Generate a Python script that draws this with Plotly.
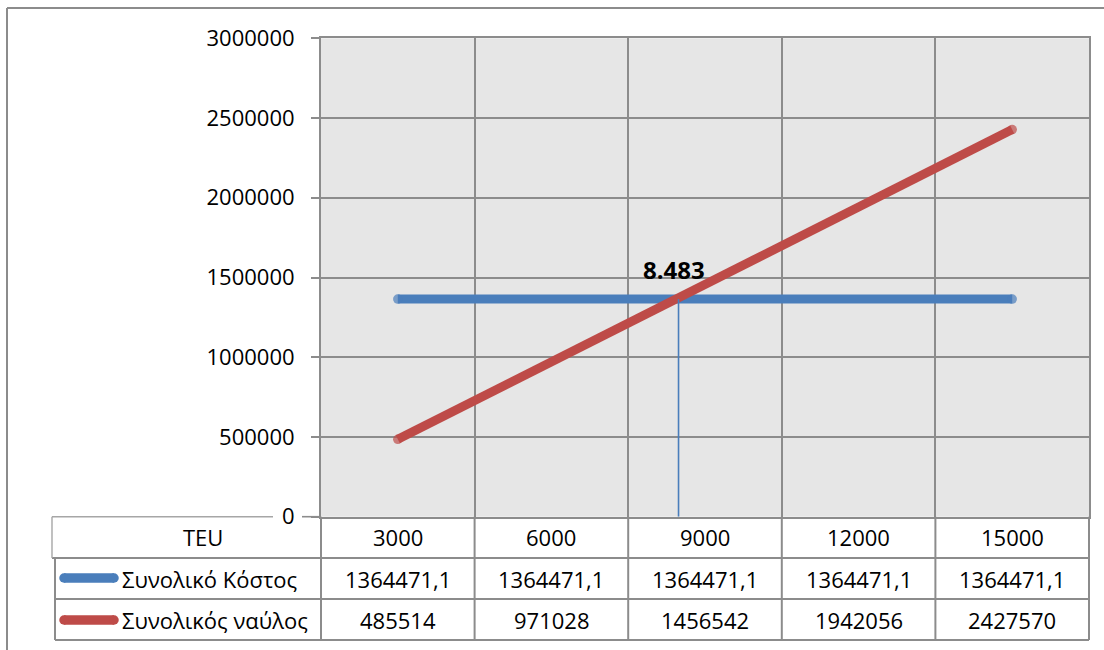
import plotly.graph_objects as go

# ---- data ----
teu = [3000, 6000, 9000, 12000, 15000]
total_cost = [1364471.1, 1364471.1, 1364471.1, 1364471.1, 1364471.1]
total_freight = [485514, 971028, 1456542, 1942056, 2427570]
series_names = ["Συνολικό Κόστος", "Συνολικός ναύλος"]
header_label = "TEU"
breakeven_teu = 8483

W, H = 1104, 650
BLUE = "#4a7ebb"
RED = "#be4b48"
GRID = "#8c8c8c"
FONT = "Open Sans, DejaVu Sans, sans-serif"
FS = 22

# plot area in pixels
PL, PR, PT, PB = 321, 1089, 38.3, 516.7


def px(x):
    return x / W


def py(y):
    return 1 - y / H


def fmt(v):
    return str(v).replace(".", ",")


# round end caps only at the first and last point of each series
cap_sizes = [9.5] + [0] * (len(teu) - 2) + [9.5]

fig = go.Figure()

fig.add_trace(go.Scatter(
    x=teu, y=total_cost, mode="lines+markers", name=series_names[0],
    line=dict(color=BLUE, width=9),
    marker=dict(color=BLUE, size=cap_sizes, line=dict(width=0)),
    hoverinfo="skip"))
fig.add_trace(go.Scatter(
    x=teu, y=total_freight, mode="lines+markers", name=series_names[1],
    line=dict(color=RED, width=9),
    marker=dict(color=RED, size=cap_sizes, line=dict(width=0)),
    hoverinfo="skip"))

# break-even drop line and label
fig.add_trace(go.Scatter(
    x=[breakeven_teu, breakeven_teu], y=[0, total_cost[0]], mode="lines",
    line=dict(color=BLUE, width=1.6), hoverinfo="skip"))
fig.add_annotation(
    x=breakeven_teu, y=total_cost[0], xref="x", yref="y",
    text="<b>" + f"{breakeven_teu:,}".replace(",", ".") + "</b>",
    showarrow=False, xanchor="center", yanchor="bottom", yshift=11, xshift=-5,
    font=dict(family=FONT, size=24, color="black"))

# category spacing: each TEU value sits in the middle of its column
step = teu[1] - teu[0]
x_lo, x_hi = teu[0] - step / 2, teu[-1] + step / 2
bounds = [x_lo + step * i for i in range(len(teu) + 1)]

fig.update_layout(
    template="none",
    width=W, height=H, autosize=False,
    margin=dict(l=0, r=0, t=0, b=0, pad=0, autoexpand=False),
    paper_bgcolor="white", plot_bgcolor="#e6e6e6",
    showlegend=False,
    font=dict(family=FONT, size=FS, color="black"),
    xaxis=dict(domain=[px(PL), px(PR)], range=[x_lo, x_hi],
               tickvals=bounds, showticklabels=False, ticks="",
               showgrid=True, gridcolor=GRID, gridwidth=1.6,
               showline=True, linecolor=GRID, linewidth=2, mirror=True,
               zeroline=False, automargin=False),
    yaxis=dict(domain=[py(PB), py(PT)], range=[0, 3000000],
               dtick=500000, tickformat="d", ticks="outside", ticklen=8,
               tickcolor=GRID, tickwidth=1.6, ticklabelstandoff=12,
               showgrid=True, gridcolor=GRID, gridwidth=1.6,
               showline=True, linecolor=GRID, linewidth=2, mirror=True,
               zeroline=False, automargin=False, tickfont=dict(size=FS)),
)

shapes = []


def hline(x0, x1, y, color=GRID, width=2):
    shapes.append(dict(type="line", xref="paper", yref="paper",
                       x0=px(x0), x1=px(x1), y0=py(y), y1=py(y),
                       line=dict(color=color, width=width)))


def vline(x, y0, y1, color=GRID, width=2):
    shapes.append(dict(type="line", xref="paper", yref="paper",
                       x0=px(x), x1=px(x), y0=py(y0), y1=py(y1),
                       line=dict(color=color, width=width)))


# outer chart border
hline(7, W + 5, 8)
vline(7, 8, H + 5)

# data table grid
row_y = [PB, 558, 599, 640]
col_x = [PL + (PR - PL) * i / len(teu) for i in range(len(teu) + 1)]
for x in col_x:
    vline(x, PB, row_y[-1])
hline(55, PR, row_y[2])
hline(55, PR, row_y[3])
hline(52, PR, row_y[1])
vline(55, row_y[1], row_y[3])
# header cell (lighter frame, broken around the zero tick label)
hline(52, 273, PB, color="#a6a6a6", width=1.4)
hline(302, PL, PB, color=GRID, width=1.6)
vline(52, PB, row_y[1], color="#a6a6a6", width=1.4)

# legend keys inside the table
for color, yc in [(BLUE, 578), (RED, 620)]:
    hline(64, 114, yc, color=color, width=9.5)
    for cx in (64, 114):
        r = 4.75
        shapes.append(dict(type="circle", xref="paper", yref="paper",
                           x0=px(cx - r), x1=px(cx + r),
                           y0=py(yc + r), y1=py(yc - r),
                           fillcolor=color, line=dict(width=0)))

fig.update_layout(shapes=shapes)


def cell_text(x, y, text, anchor="center"):
    fig.add_annotation(x=px(x), y=py(y), xref="paper", yref="paper",
                       text=text, showarrow=False,
                       xanchor=anchor, yanchor="middle",
                       font=dict(family=FONT, size=FS, color="black"))


# table text
row_mid = [(row_y[i] + row_y[i + 1]) / 2 for i in range(3)]
cell_text(203, row_mid[0], header_label)
cell_text(120, row_mid[1], series_names[0], "left")
cell_text(120, row_mid[2], series_names[1], "left")
for i, t in enumerate(teu):
    cx = (col_x[i] + col_x[i + 1]) / 2
    for r, txt in enumerate([str(t), fmt(total_cost[i]), fmt(total_freight[i])]):
        cell_text(cx, row_mid[r], txt)

fig.write_html("out.html")
